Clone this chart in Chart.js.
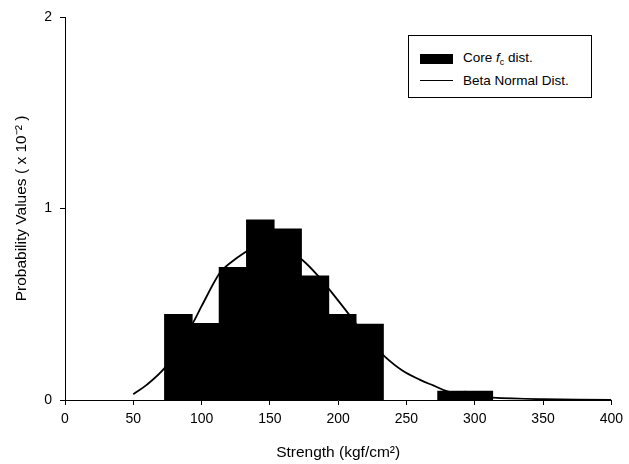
<!DOCTYPE html>
<html>
<head>
<meta charset="utf-8">
<script src="https://cdn.jsdelivr.net/npm/chart.js@4.4.0/dist/chart.umd.min.js"></script>
<style>
  html, body { margin: 0; padding: 0; background: #fff; }
  #wrap { position: relative; width: 629px; height: 464px; }
  #legend {
    position: absolute; left: 408px; top: 35px; width: 182px; height: 61px;
    border: 1px solid #000; background: #fff;
    font-family: 'Liberation Sans', Arial, sans-serif; font-size: 13.5px; color: #000;
  }
  .item { position: absolute; left: 11px; display: flex; align-items: center; }
  .sw-bar { width: 33px; height: 10px; background: #000; margin-right: 10px; }
  .sw-line { width: 33px; height: 0; border-top: 1.5px solid #000; margin-right: 10px; }
  sub { font-size: 9px; vertical-align: -3px; }
</style>
</head>
<body>
<div id="wrap">
  <canvas id="c" width="629" height="464"></canvas>
  <div id="legend">
    <div class="item" style="top:14px"><span class="sw-bar"></span><span>Core <i>f</i><sub>c</sub> dist.</span></div>
    <div class="item" style="top:37px"><span class="sw-line"></span><span>Beta Normal Dist.</span></div>
  </div>
</div>
<script>
// histogram of core strength (bin centres, kgf/cm2) and heights (x 10^-2)
const binCenters = [83, 103, 123, 143, 163, 183, 203, 223, 283, 303];
const binHeights = [0.446, 0.399, 0.692, 0.94, 0.893, 0.647, 0.446, 0.395, 0.045, 0.045];

// fitted beta normal curve
const curveX = [50, 60, 72.7, 80, 93.4, 100, 113, 120, 133, 140, 150, 160, 174, 186, 194, 208, 220, 234, 247, 260, 270, 280, 295, 313, 350, 400];
const curveY = [0.03, 0.08, 0.165, 0.25, 0.40, 0.49, 0.66, 0.71, 0.777, 0.80, 0.815, 0.80, 0.73, 0.643, 0.573, 0.446, 0.33, 0.228, 0.154, 0.105, 0.075, 0.045, 0.025, 0.012, 0.004, 0];

const xTicks = [0, 50, 100, 150, 200, 250, 300, 350, 400];
const yTicks = [0, 1, 2];

const font = "'Liberation Sans', Arial, sans-serif";
const axisLine = {
    display: true, drawOnChartArea: false, drawTicks: true, offset: false,
    tickLength: 5, color: '#000', lineWidth: 1
};

new Chart(document.getElementById('c'), {
    data: {
        datasets: [
            {
                type: 'line',
                label: 'Beta Normal Dist.',
                data: curveX.map((x, i) => ({ x, y: curveY[i] })),
                borderColor: '#000',
                borderWidth: 1.8,
                pointRadius: 0,
                tension: 0.35,
                order: 2,
            },
            {
                type: 'bar',
                label: 'Core fc dist.',
                data: binCenters.map((x, i) => ({ x, y: binHeights[i] })),
                backgroundColor: '#000',
                borderWidth: 0,
                inflateAmount: 0.6,
                barPercentage: 1,
                categoryPercentage: 1,
                order: 1,
            }
        ]
    },
    options: {
        responsive: false,
        animation: false,
        layout: { padding: { top: 17, right: 16, left: 0, bottom: 0 } },
        plugins: { legend: { display: false }, tooltip: { enabled: false } },
        scales: {
            x: {
                type: 'linear', min: 0, max: 400, offset: false,
                afterBuildTicks: s => { s.ticks = xTicks.map(v => ({ value: v })); },
                afterFit: s => { s.height = 64; },
                grid: axisLine,
                border: { color: '#000', width: 1 },
                ticks: { color: '#000', font: { family: font, size: 14 }, padding: 6, maxRotation: 0 },
                title: {
                    display: true, text: 'Strength (kgf/cm²)', color: '#000',
                    font: { family: font, size: 15.5 }, padding: { top: 0, bottom: 2 }
                }
            },
            y: {
                type: 'linear', min: 0, max: 2,
                afterBuildTicks: s => { s.ticks = yTicks.map(v => ({ value: v })); },
                afterFit: s => { s.width = 65; },
                grid: axisLine,
                border: { color: '#000', width: 1 },
                ticks: { color: '#000', font: { family: font, size: 14 }, padding: 8 },
                title: {
                    display: true, text: 'Probability Values ( x 10⁻² )', color: '#000',
                    font: { family: font, size: 15.5 }, padding: { top: 12, bottom: 0 }
                }
            }
        }
    }
});
</script>
</body>
</html>
